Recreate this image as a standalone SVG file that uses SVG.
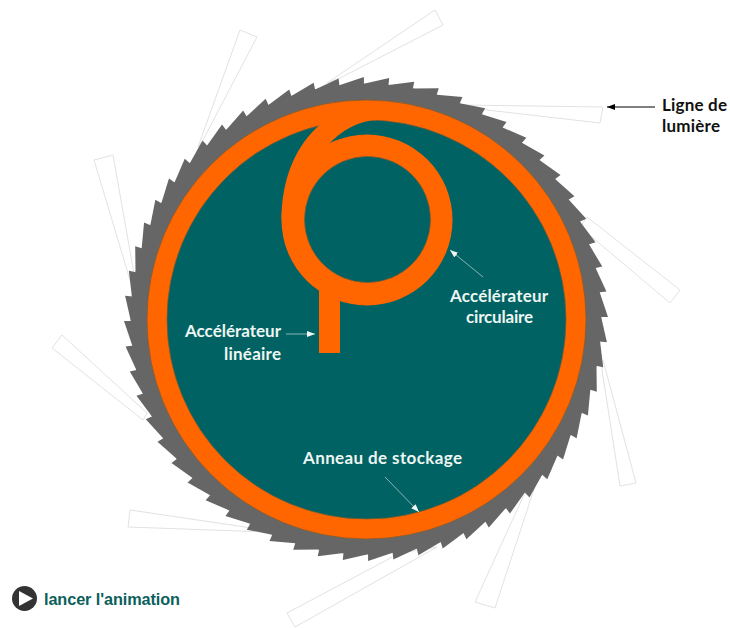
<svg xmlns="http://www.w3.org/2000/svg" xmlns:xlink="http://www.w3.org/1999/xlink" width="730" height="628" viewBox="0 0 730 628">
<style>
.beam{fill:#fff;stroke:#e2e2e2;stroke-width:1}
.gear{fill:#666}
.orange{fill:#ff6600}
.teal{fill:#006262}
.edge{stroke:#7d5a30;stroke-width:.7}
.lbl{font-family:"Lato","Open Sans",sans-serif;font-weight:700;font-size:17px;fill:#eef6f3}
.blk{fill:#111}
.wline{stroke:#a9cbc7;stroke-width:.8;fill:none;marker-end:url(#wa)}
.bline{stroke:#000;stroke-width:1.1;fill:none;marker-end:url(#ba)}
</style>
<defs>
<marker id="wa" markerUnits="userSpaceOnUse" markerWidth="9" markerHeight="6" refX="8" refY="3" orient="auto"><path d="M0,0L8,3L0,6Z" fill="#f2f7f5"/></marker>
<marker id="ba" markerUnits="userSpaceOnUse" markerWidth="9" markerHeight="6" refX="8" refY="3" orient="auto"><path d="M0,0L8,3L0,6Z" fill="#000"/></marker>
<polygon id="t" class="gear" points="0,-242 0,-225 -24.6,-224 -24.6,-233.900"/>
<g id="t5"><use xlink:href="#t"/><use xlink:href="#t" transform="rotate(6)"/><use xlink:href="#t" transform="rotate(12)"/><use xlink:href="#t" transform="rotate(18)"/><use xlink:href="#t" transform="rotate(24)"/></g>
</defs>
<rect width="730" height="628" fill="#fff"/>
<g id="lignes-de-lumiere">
<polygon class="beam" points="463,105 603,107 600,123 487,110"/>
<polygon class="beam" points="587,217 680,290 670,303 580,227"/>
<polygon class="beam" points="603,360 636,483 620,486 602,370"/>
<polygon class="beam" points="537,480 495,608 475,602 523,497"/>
<polygon class="beam" points="437,547 295,627 287,613 400,553"/>
<polygon class="beam" points="245,527 130,510 128,527 267,532"/>
<polygon class="beam" points="147,413 62,335 52,348 143,420"/>
<polygon class="beam" points="133,290 94,160 113,155 136,285"/>
<polygon class="beam" points="198,147 240,30 257,37 203,140"/>
<polygon class="beam" points="327,83 435,10 443,25 340,78"/>
</g>
<g id="enveloppe">
<circle class="gear" cx="366" cy="319" r="235.200"/>
<g transform="translate(366 319) rotate(17.5)">
<use xlink:href="#t5"/><use xlink:href="#t5" transform="rotate(30)"/><use xlink:href="#t5" transform="rotate(60)"/><use xlink:href="#t5" transform="rotate(90)"/><use xlink:href="#t5" transform="rotate(120)"/><use xlink:href="#t5" transform="rotate(150)"/><use xlink:href="#t5" transform="rotate(180)"/><use xlink:href="#t5" transform="rotate(210)"/><use xlink:href="#t5" transform="rotate(240)"/><use xlink:href="#t5" transform="rotate(270)"/><use xlink:href="#t5" transform="rotate(300)"/><use xlink:href="#t5" transform="rotate(330)"/>
</g>
</g>
<g id="anneau-de-stockage">
<circle class="orange edge" cx="366.500" cy="319.500" r="219.500"/>
<circle class="teal edge" cx="366.500" cy="319.500" r="199.500"/>
</g>
<g id="accelerateur-lineaire">
<rect class="orange" x="319" y="290" width="21" height="63"/>
</g>
<g id="accelerateur-circulaire">
<circle class="orange" cx="367" cy="220" r="85.500"/>
<path class="orange" d="M281.500,220C281.500,180 295,145 322,123L330,105L385,110L381,120C360,119 342,130 328,145L310,190Z"/>
<circle class="teal edge" cx="367.500" cy="219.500" r="63"/>
</g>
<g id="connecteurs">
<path class="bline" d="M655,107H607"/>
<path class="wline" d="M483,277L450,250"/>
<path class="wline" d="M286,334H315"/>
<path class="wline" d="M385,477L419,512"/>
</g>
<g id="label-ligne">
<text class="lbl blk" x="662" y="111" textLength="65">Ligne de</text>
<text class="lbl blk" x="662" y="132" textLength="58">lumière</text>
</g>
<g id="label-circulaire">
<text class="lbl" x="450" y="302" textLength="98">Accélérateur</text>
<text class="lbl" x="466" y="323" textLength="67">circulaire</text>
</g>
<g id="label-lineaire">
<text class="lbl" x="185" y="337" textLength="96">Accélérateur</text>
<text class="lbl" x="224" y="360" textLength="57">linéaire</text>
</g>
<g id="label-stockage">
<text class="lbl" x="303" y="464" textLength="159">Anneau de stockage</text>
</g>
<g id="lancer">
<circle cx="24.500" cy="598.500" r="12.500" fill="#333"/>
<path d="M19,591L33,598.500L19,606Z" fill="#fff"/>
<text x="44" y="605" font-family="'Liberation Sans', sans-serif" font-weight="700" font-size="16.300px" fill="#0b5f5c" textLength="136">lancer l'animation</text>
</g>
</svg>
